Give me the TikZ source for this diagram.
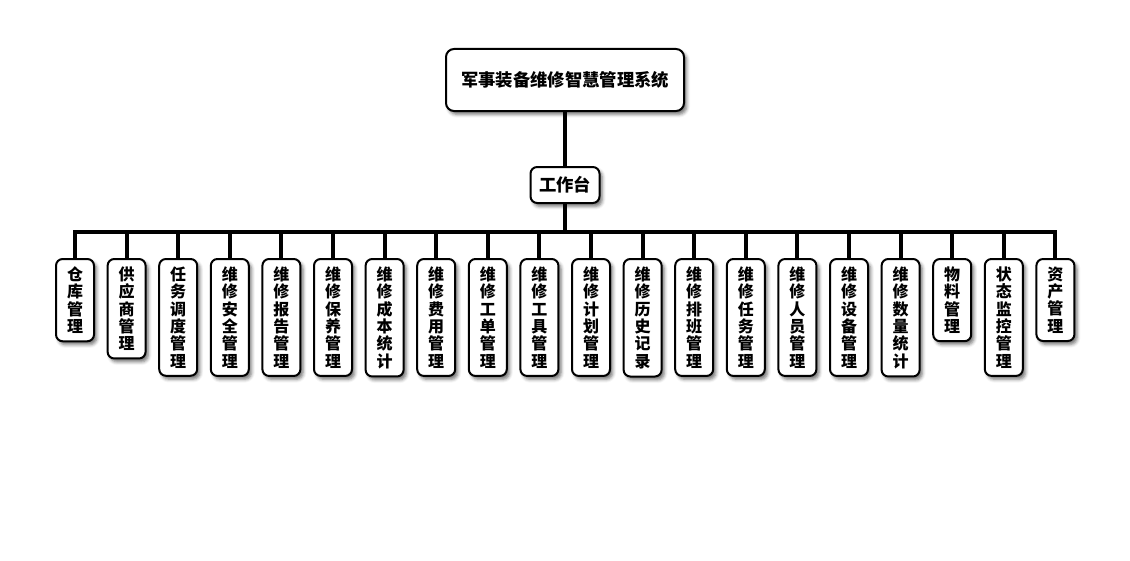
\documentclass[tikz,border=0pt]{standalone}
\usepackage{fontspec}
\setmainfont{Noto Sans CJK SC}
\usetikzlibrary{positioning,shadows.blur}

\begin{document}
\begin{tikzpicture}[
  font=\bfseries,
  node distance=8.7pt,
  box/.style={draw, line width=1.5pt, fill=white, rounded corners=5pt, align=center,
    blur shadow={shadow xshift=2pt, shadow yshift=-2.5pt, shadow blur radius=2.5pt, shadow opacity=55}},
  top/.style={box, rounded corners=6pt, minimum width=178.5pt, minimum height=46.5pt, font=\bfseries\fontsize{13}{15}\selectfont},
  hub/.style={box, minimum width=51.75pt, minimum height=27pt, font=\bfseries\fontsize{13}{15}\selectfont},
  leaf/.style={box, anchor=north, minimum width=28.5pt, inner ysep=5.8pt, font=\bfseries\fontsize{12}{13}\selectfont},
  link/.style={line width=3pt}
]
\useasboundingbox (0,0) rectangle (847.5pt,-420pt);
\node[top] (root) at (423.75pt,-60pt) {军事装备维修智慧管理系统};
\node[hub, below=40.5pt of root] (desk) {工作台};
\node[leaf] (warehouse) at (56.25pt,-193.5pt) {仓\\库\\管\\理};
\node[leaf, right=of warehouse.north east, anchor=north west] (supplier) {供\\应\\商\\管\\理};
\node[leaf, right=of supplier.north east, anchor=north west] (dispatch) {任\\务\\调\\度\\管\\理};
\node[leaf, right=of dispatch.north east, anchor=north west] (safety) {维\\修\\安\\全\\管\\理};
\node[leaf, right=of safety.north east, anchor=north west] (report) {维\\修\\报\\告\\管\\理};
\node[leaf, right=of report.north east, anchor=north west] (upkeep) {维\\修\\保\\养\\管\\理};
\node[leaf, right=of upkeep.north east, anchor=north west] (cost) {维\\修\\成\\本\\统\\计};
\node[leaf, right=of cost.north east, anchor=north west] (expense) {维\\修\\费\\用\\管\\理};
\node[leaf, right=of expense.north east, anchor=north west] (workorder) {维\\修\\工\\单\\管\\理};
\node[leaf, right=of workorder.north east, anchor=north west] (tools) {维\\修\\工\\具\\管\\理};
\node[leaf, right=of tools.north east, anchor=north west] (plan) {维\\修\\计\\划\\管\\理};
\node[leaf, right=of plan.north east, anchor=north west] (history) {维\\修\\历\\史\\记\\录};
\node[leaf, right=of history.north east, anchor=north west] (shift) {维\\修\\排\\班\\管\\理};
\node[leaf, right=of shift.north east, anchor=north west] (task) {维\\修\\任\\务\\管\\理};
\node[leaf, right=of task.north east, anchor=north west] (staff) {维\\修\\人\\员\\管\\理};
\node[leaf, right=of staff.north east, anchor=north west] (equip) {维\\修\\设\\备\\管\\理};
\node[leaf, right=of equip.north east, anchor=north west] (stats) {维\\修\\数\\量\\统\\计};
\node[leaf, right=of stats.north east, anchor=north west] (material) {物\\料\\管\\理};
\node[leaf, right=of material.north east, anchor=north west] (monitor) {状\\态\\监\\控\\管\\理};
\node[leaf, right=of monitor.north east, anchor=north west] (asset) {资\\产\\管\\理};
\draw[link] (root) -- (desk);
\draw[link] (desk.south) -- ++(0,-21pt) -| (warehouse.north);
\draw[link] (desk.south) -- ++(0,-21pt) -| (supplier.north);
\draw[link] (desk.south) -- ++(0,-21pt) -| (dispatch.north);
\draw[link] (desk.south) -- ++(0,-21pt) -| (safety.north);
\draw[link] (desk.south) -- ++(0,-21pt) -| (report.north);
\draw[link] (desk.south) -- ++(0,-21pt) -| (upkeep.north);
\draw[link] (desk.south) -- ++(0,-21pt) -| (cost.north);
\draw[link] (desk.south) -- ++(0,-21pt) -| (expense.north);
\draw[link] (desk.south) -- ++(0,-21pt) -| (workorder.north);
\draw[link] (desk.south) -- ++(0,-21pt) -| (tools.north);
\draw[link] (desk.south) -- ++(0,-21pt) -| (plan.north);
\draw[link] (desk.south) -- ++(0,-21pt) -| (history.north);
\draw[link] (desk.south) -- ++(0,-21pt) -| (shift.north);
\draw[link] (desk.south) -- ++(0,-21pt) -| (task.north);
\draw[link] (desk.south) -- ++(0,-21pt) -| (staff.north);
\draw[link] (desk.south) -- ++(0,-21pt) -| (equip.north);
\draw[link] (desk.south) -- ++(0,-21pt) -| (stats.north);
\draw[link] (desk.south) -- ++(0,-21pt) -| (material.north);
\draw[link] (desk.south) -- ++(0,-21pt) -| (monitor.north);
\draw[link] (desk.south) -- ++(0,-21pt) -| (asset.north);
\end{tikzpicture}
\end{document}
